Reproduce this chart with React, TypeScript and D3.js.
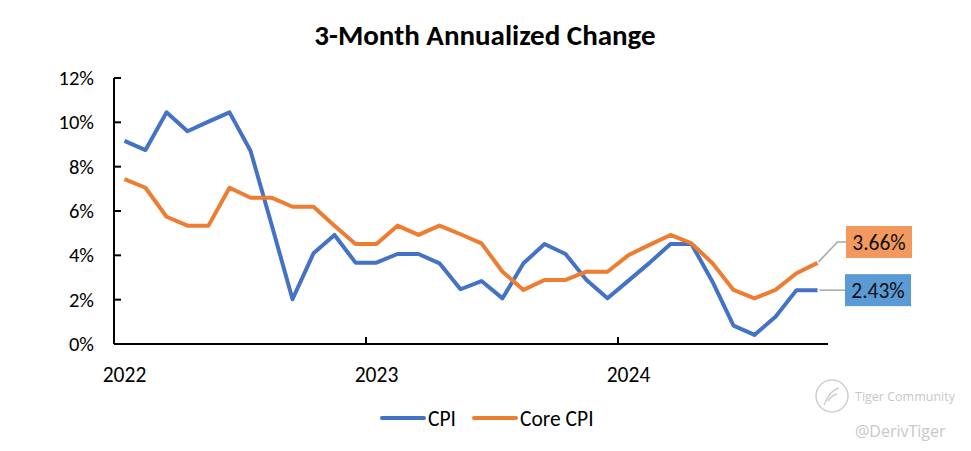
import { useEffect, useRef } from "react";
import * as d3 from "d3";

const width = 971;
const height = 451;
const margin = { top: 78, right: 143, bottom: 107, left: 114 };

// 2022-01 .. 2024-10, monthly
const months = d3.timeMonths(new Date(2022, 0, 1), new Date(2024, 10, 1));

const cpi = [
  9.16, 8.75, 10.45, 9.6, 10.03, 10.45, 8.72, 5.4, 2.02, 4.09, 4.92, 3.67,
  3.67, 4.06, 4.06, 3.64, 2.47, 2.84, 2.06, 3.64, 4.51, 4.06, 2.89, 2.06,
  2.86, 3.66, 4.51, 4.51, 2.81, 0.83, 0.41, 1.23, 2.43, 2.43,
];

const coreCpi = [
  7.44, 7.05, 5.74, 5.34, 5.34, 7.05, 6.6, 6.6, 6.19, 6.19, 5.33, 4.51,
  4.51, 5.34, 4.92, 5.34, 4.95, 4.54, 3.26, 2.44, 2.89, 2.89, 3.26, 3.26,
  4.01, 4.47, 4.92, 4.54, 3.64, 2.44, 2.06, 2.44, 3.19, 3.66,
];

const yTicks = [0, 2, 4, 6, 8, 10, 12];
const yearLabels = ["2022", "2023", "2024"];

const seriesNames = ["CPI", "Core CPI"];
const colors = ["#4472C4", "#ED7D31"];
const boxColors = ["#5B9BD5", "#F4995E"];

export default function App() {
  const svgRef = useRef<SVGSVGElement | null>(null);

  useEffect(() => {
    if (!svgRef.current) return;
    const svg = d3.select(svgRef.current);
    svg.selectAll("*").remove();

    const font = "Calibri, Carlito, 'Open Sans', sans-serif";

    // x 軸：每月一格，點在格子中央
    const x = d3
      .scaleBand<number>()
      .domain(d3.range(months.length))
      .range([margin.left, width - margin.right]);
    const cx = (i: number) => (x(i) ?? 0) + x.bandwidth() / 2;

    const y = d3
      .scaleLinear()
      .domain([0, 12])
      .range([height - margin.bottom, margin.top]);

    // 標題
    svg
      .append("text")
      .attr("x", 485)
      .attr("y", 45)
      .attr("text-anchor", "middle")
      .attr("font-family", font)
      .attr("font-weight", 700)
      .attr("font-size", 29)
      .attr("fill", "#000")
      .text("3-Month Annualized Change");

    // y 軸
    const yAxis = svg.append("g");
    yAxis
      .append("line")
      .attr("x1", margin.left)
      .attr("x2", margin.left)
      .attr("y1", y(12))
      .attr("y2", y(0))
      .attr("stroke", "#000")
      .attr("stroke-width", 2);
    yAxis
      .selectAll("line.tick")
      .data(yTicks)
      .join("line")
      .attr("class", "tick")
      .attr("x1", margin.left)
      .attr("x2", margin.left + 7)
      .attr("y1", (d) => y(d))
      .attr("y2", (d) => y(d))
      .attr("stroke", "#000")
      .attr("stroke-width", 2);
    yAxis
      .selectAll("text")
      .data(yTicks)
      .join("text")
      .attr("x", 94)
      .attr("y", (d) => y(d) + 7)
      .attr("text-anchor", "end")
      .attr("font-family", font)
      .attr("font-size", 20.5)
      .attr("fill", "#000")
      .text((d) => `${d}%`);

    // x 軸
    const xAxis = svg.append("g");
    xAxis
      .append("line")
      .attr("x1", margin.left)
      .attr("x2", width - margin.right)
      .attr("y1", y(0))
      .attr("y2", y(0))
      .attr("stroke", "#000")
      .attr("stroke-width", 2);
    const yearStarts = months
      .map((m, i) => (m.getMonth() === 0 ? i : -1))
      .filter((i) => i >= 0);
    xAxis
      .selectAll("line.tick")
      .data(yearStarts)
      .join("line")
      .attr("class", "tick")
      .attr("x1", (i) => x(i) ?? 0)
      .attr("x2", (i) => x(i) ?? 0)
      .attr("y1", y(0))
      .attr("y2", y(0) - 7)
      .attr("stroke", "#000")
      .attr("stroke-width", 2);
    xAxis
      .selectAll("text")
      .data(yearStarts)
      .join("text")
      .attr("x", (i) => cx(i))
      .attr("y", 382)
      .attr("text-anchor", "middle")
      .attr("font-family", font)
      .attr("font-size", 21.5)
      .attr("fill", "#000")
      .text((_, k) => yearLabels[k]);

    // 折線
    const line = d3
      .line<number>()
      .x((_, i) => cx(i))
      .y((d) => y(d));
    [cpi, coreCpi].forEach((s, k) => {
      svg
        .append("path")
        .datum(s)
        .attr("d", line)
        .attr("fill", "none")
        .attr("stroke", colors[k])
        .attr("stroke-width", 4)
        .attr("stroke-linejoin", "round");
    });

    // 最後一點標籤
    const last = months.length - 1;
    const lx = cx(last);
    const labels = [
      { v: cpi[last], boxY: y(cpi[last]), k: 0 },
      { v: coreCpi[last], boxY: 242, k: 1 },
    ];
    labels.forEach(({ v, boxY, k }) => {
      const py = y(v);
      const pts: [number, number][] =
        k === 0
          ? [
              [lx + 2, py],
              [846, boxY],
            ]
          : [
              [lx + 1, py - 1],
              [lx + 20, boxY],
              [846, boxY],
            ];
      svg
        .append("path")
        .attr("d", d3.line()(pts))
        .attr("fill", "none")
        .attr("stroke", "#A6A6A6")
        .attr("stroke-width", 1.5);
      svg
        .append("rect")
        .attr("x", 846 - (k === 0 ? 1 : 0))
        .attr("y", boxY - 16)
        .attr("width", 66)
        .attr("height", 32)
        .attr("fill", boxColors[k]);
      svg
        .append("text")
        .attr("x", 879 - (k === 0 ? 1 : 0))
        .attr("y", boxY + 7.5)
        .attr("text-anchor", "middle")
        .attr("font-family", font)
        .attr("font-size", 21.5)
        .attr("fill", "#111")
        .text(`${v.toFixed(2)}%`);
    });

    // 圖例
    const legend = svg.append("g").attr("transform", "translate(0, 418)");
    const legendX = [382, 474];
    seriesNames.forEach((name, k) => {
      legend
        .append("line")
        .attr("x1", legendX[k])
        .attr("x2", legendX[k] + 42)
        .attr("stroke", colors[k])
        .attr("stroke-width", 4)
        .attr("stroke-linecap", "round");
      legend
        .append("text")
        .attr("x", legendX[k] + 46)
        .attr("y", 7.5)
        .attr("font-family", font)
        .attr("font-size", 21.5)
        .attr("fill", "#000")
        .text(name);
    });

    // 浮水印
    const wm = svg.append("g").attr("fill", "none").attr("stroke", "#cfcfcf");
    wm.append("circle").attr("cx", 832).attr("cy", 396).attr("r", 16).attr("stroke-width", 1.5);
    wm.append("path")
      .attr("d", "M824 405 q6 -15 15 -17 M828 401 q4 -6 9 -7")
      .attr("stroke-width", 1.5);
    svg
      .append("text")
      .attr("x", 855)
      .attr("y", 401)
      .attr("font-family", "'Open Sans', sans-serif")
      .attr("font-size", 12.5)
      .attr("fill", "#c8c8c8")
      .text("Tiger Community");
    svg
      .append("text")
      .attr("x", 855)
      .attr("y", 437)
      .attr("font-family", "'Open Sans', sans-serif")
      .attr("font-size", 16)
      .attr("fill", "#c8c8c8")
      .text("@DerivTiger");
  }, []);

  return (
    <svg
      ref={svgRef}
      width={width}
      height={height}
      viewBox={`0 0 ${width} ${height}`}
      style={{ position: "absolute", left: 0, top: 0, background: "#fff" }}
    />
  );
}
